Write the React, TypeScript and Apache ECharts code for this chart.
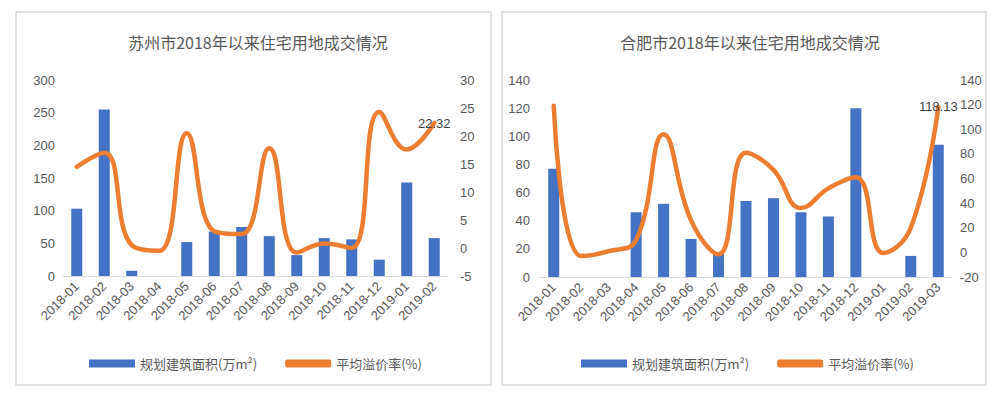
import React, { useEffect, useRef } from "react";
import * as echarts from "echarts";

const szCategories = ["2018-01","2018-02","2018-03","2018-04","2018-05","2018-06","2018-07","2018-08","2018-09","2018-10","2018-11","2018-12","2019-01","2019-02"];
const szArea = [103, 255, 8, 0, 52, 68, 75, 61, 32, 58, 56, 25, 143, 58];
const szPremium = [14.5, 17, 0.5, -0.5, 20.5, 3, 2.5, 17.8, -0.8, 0.8, 0, 24.3, 17.6, 22.32];

const hfCategories = ["2018-01","2018-02","2018-03","2018-04","2018-05","2018-06","2018-07","2018-08","2018-09","2018-10","2018-11","2018-12","2019-01","2019-02","2019-03"];
const hfArea = [77, 0, 0, 46, 52, 27, 17, 54, 56, 46, 43, 120, 0, 15, 94];
const hfPremium = [119, -3, 1, 10, 96, 26, -1.6, 81, 67, 36, 52, 61, -0.5, 20, 118.13];

const barName = "规划建筑面积(万m²)";
const lineName = "平均溢价率(%)";
const titles = ["苏州市2018年以来住宅用地成交情况", "合肥市2018年以来住宅用地成交情况"];

const BLUE = "#4472C4";
const ORANGE = "#ED7D31";
const TXT = "#595959";
const FONT = "'Noto Sans CJK SC', 'Noto Sans', sans-serif";
const NUMFONT = "'Liberation Sans', Arial, sans-serif";

export default function App() {
  const ref = useRef<HTMLDivElement>(null);
  useEffect(() => {
    document.body.style.margin = "0";
    const chart = echarts.init(ref.current!, null, { renderer: "svg" });
    const lastLabel = (n: number) => ({
      show: true,
      position: "inside",
      color: "#404040",
      fontSize: 13,
      fontFamily: NUMFONT,
      formatter: (p: any) => (p.dataIndex === n - 1 ? String(p.value) : ""),
    });
    const xAxis = (cats: string[], gi: number) => ({
      type: "category",
      gridIndex: gi,
      data: cats,
      axisLine: { lineStyle: { color: "#d9d9d9", width: 1 } },
      axisTick: { show: false },
      axisLabel: { rotate: 45, color: TXT, fontSize: 13, fontFamily: NUMFONT, interval: 0, margin: 8 },
    });
    const yAxis = (gi: number, min: number, max: number, interval: number, pos: string, margin: number) => ({
      type: "value",
      gridIndex: gi,
      position: pos,
      min,
      max,
      interval,
      axisLine: { show: false },
      axisTick: { show: false },
      splitLine: { show: false },
      axisLabel: { color: TXT, fontSize: 13, fontFamily: NUMFONT, margin },
    });
    const legend = (left: number) => ({
      left,
      top: 352,
      itemWidth: 46,
      itemHeight: 8,
      itemGap: 28,
      textStyle: { color: TXT, fontSize: 13, fontFamily: FONT },
      data: [
        { name: barName, icon: "rect" },
        { name: lineName, icon: "roundRect" },
      ],
    });
    chart.setOption({
      animation: false,
      title: [
        { text: titles[0], left: 253, textAlign: "center", top: 29, textStyle: { color: TXT, fontSize: 16, fontWeight: "normal", fontFamily: FONT } },
        { text: titles[1], left: 745, textAlign: "center", top: 29, textStyle: { color: TXT, fontSize: 16, fontWeight: "normal", fontFamily: FONT } },
      ],
      legend: [legend(84), legend(576)],
      grid: [
        { left: 63, right: 552, top: 80, height: 196, containLabel: false },
        { left: 540, right: 48, top: 80, height: 197, containLabel: false },
      ],
      xAxis: [xAxis(szCategories, 0), xAxis(hfCategories, 1)],
      yAxis: [
        yAxis(0, 0, 300, 50, "left", 8),
        yAxis(0, -5, 30, 5, "right", 12),
        yAxis(1, 0, 140, 20, "left", 10),
        yAxis(1, -20, 140, 20, "right", 8),
      ],
      graphic: [
        { type: "rect", shape: { x: 16, y: 12, width: 475, height: 373 }, style: { fill: "none", stroke: "#d9d9d9", lineWidth: 1.5 }, silent: true },
        { type: "rect", shape: { x: 502, y: 12, width: 484, height: 373 }, style: { fill: "none", stroke: "#d9d9d9", lineWidth: 1.5 }, silent: true },
      ],
      series: [
        { name: barName, type: "bar", xAxisIndex: 0, yAxisIndex: 0, data: szArea, barWidth: 11, itemStyle: { color: BLUE } },
        { name: lineName, type: "line", xAxisIndex: 0, yAxisIndex: 1, data: szPremium, smooth: 0.45, symbol: "circle", symbolSize: 0, showSymbol: true, lineStyle: { color: ORANGE, width: 4.5, cap: "round" }, itemStyle: { color: ORANGE }, label: lastLabel(szPremium.length), z: 3 },
        { name: barName, type: "bar", xAxisIndex: 1, yAxisIndex: 2, data: hfArea, barWidth: 11, itemStyle: { color: BLUE } },
        { name: lineName, type: "line", xAxisIndex: 1, yAxisIndex: 3, data: hfPremium, smooth: 0.45, symbol: "circle", symbolSize: 0, showSymbol: true, lineStyle: { color: ORANGE, width: 4.5, cap: "round" }, itemStyle: { color: ORANGE }, label: lastLabel(hfPremium.length), z: 3 },
      ],
    });
    return () => chart.dispose();
  }, []);
  return <div ref={ref} style={{ width: 1000, height: 394, position: "absolute", left: 0, top: 0 }} />;
}
